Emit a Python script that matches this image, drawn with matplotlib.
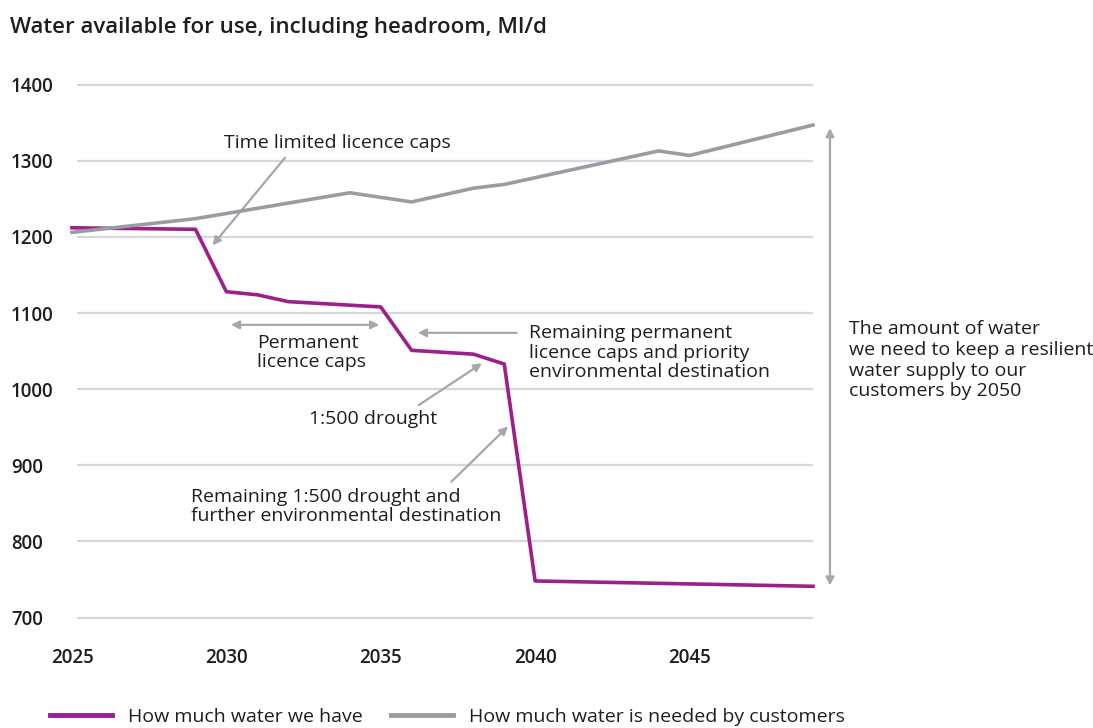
import matplotlib.pyplot as plt
from matplotlib.lines import Line2D

# values (Ml/d)
years_have = [2025, 2029, 2030, 2031, 2032, 2035, 2036, 2038, 2039, 2040, 2049]
water_have = [1212, 1210, 1128, 1124, 1115, 1108, 1051, 1046, 1033, 748, 741]

years_need = [2025, 2029, 2034, 2036, 2038, 2039, 2044, 2045, 2049]
water_need = [1206, 1224, 1258, 1246, 1264, 1269, 1313, 1307, 1347]

y_ticks = [700, 800, 900, 1000, 1100, 1200, 1300, 1400]
x_ticks = [2025, 2030, 2035, 2040, 2045]

PURPLE = "#9c1f8c"
GREY = "#999da2"
ARROW = "#a3a8ad"
GRID = "#d6d7dd"
TEXT = "#1e1e1e"

plt.rcParams["font.family"] = ["Open Sans", "DejaVu Sans"]
plt.rcParams["text.color"] = TEXT

W, H = 1093, 728
fig = plt.figure(figsize=(W / 100, H / 100), dpi=100)
ax = fig.add_axes([72 / W, 1 - 617.5 / H, (813 - 72) / W, (617.5 - 84.7) / H])

ax.set_xlim(2025, 2049)
ax.set_ylim(700, 1400)
ax.hlines(y_ticks, 2025.15, 2049, color=GRID, lw=1.6, zorder=1, clip_on=False)

ax.plot(years_have, water_have, color=PURPLE, lw=2.6, zorder=3, clip_on=False)
ax.plot(years_need, water_need, color=GREY, lw=2.6, zorder=4, clip_on=False)

ax.set_yticks(y_ticks)
ax.set_xticks(x_ticks)
for s in ax.spines.values():
    s.set_visible(False)
ax.tick_params(length=0, labelsize=13.5, labelcolor=TEXT)
ax.tick_params(axis="y", pad=44)
ax.tick_params(axis="x", pad=22)
for lab in ax.get_yticklabels() + ax.get_xticklabels():
    lab.set_fontweight("semibold")
for lab in ax.get_yticklabels():
    lab.set_ha("left")

fig.text(10 / W, 1 - 27 / H, "Water available for use, including headroom, Ml/d",
         fontsize=16, fontweight="semibold", va="center", ha="left")

arrow = dict(arrowstyle="-|>", color=ARROW, lw=1.6, mutation_scale=12,
             shrinkA=0, shrinkB=0)
both = dict(arrowstyle="<|-|>", color=ARROW, lw=1.6, mutation_scale=12,
            shrinkA=0, shrinkB=0)
fs = 14

ax.text(2033.6, 1324, "Time limited licence caps", fontsize=fs, ha="center", va="center")
ax.annotate("", xy=(2029.55, 1189), xytext=(2031.9, 1304), arrowprops=arrow)

ax.annotate("", xy=(2030.15, 1084.5), xytext=(2034.95, 1084.5), arrowprops=both)
ax.text(2031.0, 1048, "Permanent\nlicence caps", fontsize=fs, ha="left", va="center",
        linespacing=1.1)

ax.annotate("", xy=(2036.2, 1074), xytext=(2039.4, 1074), arrowprops=arrow)
ax.text(2039.8, 1048, "Remaining permanent\nlicence caps and priority\nenvironmental destination",
        fontsize=fs, ha="left", va="center", linespacing=1.1)

ax.annotate("", xy=(2038.28, 1034), xytext=(2036.23, 979), arrowprops=arrow)
ax.text(2034.74, 960.5, "1:500 drought", fontsize=fs, ha="center", va="center")

ax.annotate("", xy=(2039.12, 951), xytext=(2037.29, 878.5), arrowprops=arrow)
ax.text(2028.87, 845.6, "Remaining 1:500 drought and\nfurther environmental destination",
        fontsize=fs, ha="left", va="center", linespacing=1.1)

ax.annotate("", xy=(2049.55, 1343), xytext=(2049.55, 742), arrowprops=both,
            annotation_clip=False)
ax.text(2050.18, 1038, "The amount of water\nwe need to keep a resilient\nwater supply to our\ncustomers by 2050",
        fontsize=fs, ha="left", va="center", linespacing=1.2, clip_on=False)

handles = [Line2D([], [], color=PURPLE, lw=3.5),
           Line2D([], [], color=GREY, lw=3.5)]
fig.legend(handles, ["How much water we have", "How much water is needed by customers"],
           loc="center left", bbox_to_anchor=(50 / W, 1 - 717 / H), ncol=2,
           frameon=False, fontsize=14, handlelength=3.2, handletextpad=0.82,
           columnspacing=1.44, borderaxespad=0, borderpad=0)

fig.savefig("out.png", dpi=100)
